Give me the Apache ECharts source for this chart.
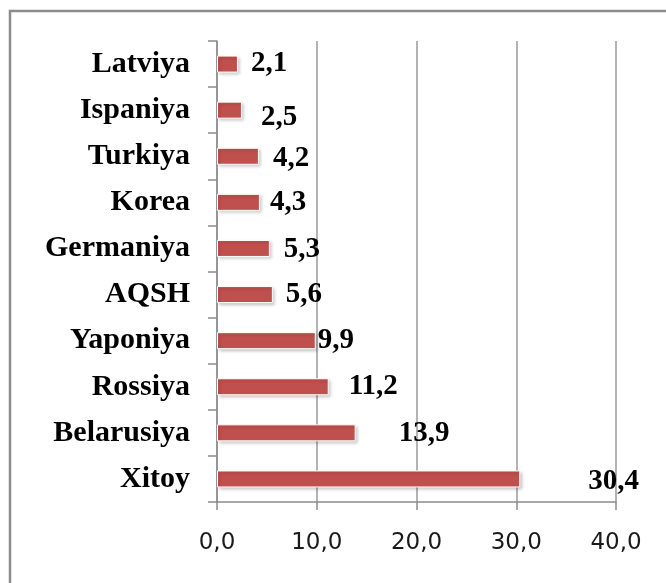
<!DOCTYPE html>
<html>
<head>
<meta charset="utf-8">
<script src="https://cdn.jsdelivr.net/npm/echarts@6/dist/echarts.min.js"></script>
<style>
html, body { margin: 0; padding: 0; background: #fff; }
#main { width: 666px; height: 583px; }
</style>
</head>
<body>
<div id="main"></div>
<script>
// countries, top to bottom as in the picture
var countries = ['Latviya', 'Ispaniya', 'Turkiya', 'Korea', 'Germaniya', 'AQSH', 'Yaponiya', 'Rossiya', 'Belarusiya', 'Xitoy'];
var shares    = [2.1, 2.5, 4.2, 4.3, 5.3, 5.6, 9.9, 11.2, 13.9, 30.4];
var xTicks    = [0, 10, 20, 30, 40];

// value labels are placed a bit irregularly in the original
var labelShift = [[13, -1], [19, 7], [14, 2], [10, 0], [14, 1], [13, 0], [2, 0], [20, 0], [43, 1], [68, 3]];

var myChart = echarts.init(document.getElementById('main'));

var barData = shares.map(function (v, i) {
    return { value: v, label: { offset: labelShift[i] } };
});

function fmt(v) {
    return v.toFixed(1).replace('.', ',');
}

var option = {
    backgroundColor: '#fff',
    animation: false,
    graphic: [{
        type: 'rect',
        shape: { x: 10, y: 11, width: 700, height: 700 },
        style: { fill: 'none', stroke: '#8c8c8c', lineWidth: 2.5 }
    }],
    grid: { left: 217, right: 50, top: 41, bottom: 81 },
    xAxis: {
        type: 'value',
        min: xTicks[0],
        max: xTicks[xTicks.length - 1],
        interval: 10,
        axisLine: { show: true, lineStyle: { color: '#8c8c8c', width: 1.5 } },
        axisTick: { show: true, length: 8, lineStyle: { color: '#8c8c8c', width: 1.5 } },
        splitLine: { show: true, lineStyle: { color: '#9a9a9a', width: 1.5 } },
        axisLabel: {
            margin: 30,
            color: '#1a1a1a',
            fontFamily: 'DejaVu Sans',
            fontSize: 23,
            formatter: function (v) { return fmt(v); }
        }
    },
    yAxis: {
        type: 'category',
        inverse: true,
        data: countries,
        axisLine: { show: true, lineStyle: { color: '#8c8c8c', width: 1.5 } },
        axisTick: { show: true, length: 9, alignWithLabel: false, lineStyle: { color: '#8c8c8c', width: 1.5 } },
        axisLabel: {
            margin: 27,
            color: '#000',
            fontFamily: 'Liberation Serif',
            fontWeight: 'bold',
            fontSize: 30
        }
    },
    series: [{
        type: 'bar',
        data: barData,
        barWidth: 17,
        itemStyle: {
            color: '#c0504d',
            borderColor: '#fff',
            borderWidth: 1,
            shadowColor: 'rgba(0,0,0,0.22)',
            shadowBlur: 3,
            shadowOffsetX: 2,
            shadowOffsetY: 2
        },
        label: {
            show: true,
            position: 'right',
            distance: 0,
            color: '#000',
            fontFamily: 'Liberation Serif',
            fontWeight: 'bold',
            fontSize: 29,
            formatter: function (p) { return fmt(p.value); }
        }
    }]
};

myChart.setOption(option);
</script>
</body>
</html>
